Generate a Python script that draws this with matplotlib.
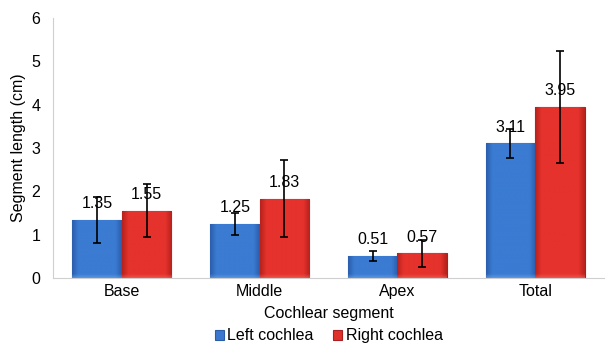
import matplotlib.pyplot as plt
import numpy as np
from matplotlib.colors import to_rgb

plt.rcParams['font.family'] = ['Liberation Sans', 'DejaVu Sans']

categories = ['Base', 'Middle', 'Apex', 'Total']
left_vals = [1.35, 1.25, 0.51, 3.11]
right_vals = [1.55, 1.83, 0.57, 3.95]
left_err = [0.53, 0.25, 0.12, 0.33]
right_err = [0.61, 0.89, 0.31, 1.29]

blue = '#3a78cf'
red = '#e0302b'
fs = 11.5


def shade(ax, bars, base, dark, light):
    # fake bevel: darker sides, lighter top strip
    base, dark, light = map(np.array, map(to_rgb, (base, dark, light)))
    for b in bars:
        x0, y0 = b.get_x(), b.get_y()
        bw, bh = b.get_width(), b.get_height()
        nx, ny = 40, 200
        u = np.linspace(0, 1, nx)
        side = np.clip(1 - np.minimum(u, 1 - u) / 0.12, 0, 1)[None, :, None]
        img = base[None, None, :] * (1 - side) + dark[None, None, :] * side
        img = np.repeat(img, ny, axis=0)
        top_px = 0.09 / bh * ny if bh > 0 else 0
        rows = np.arange(ny)[:, None, None]
        topmask = np.clip(1 - rows / max(top_px, 1), 0, 1) * 0.6
        img = img * (1 - topmask) + light[None, None, :] * topmask
        im = ax.imshow(img, extent=[x0, x0 + bw, y0 + bh, y0], origin='upper',
                       aspect='auto', zorder=2.1, interpolation='bilinear')
        im.set_clip_path(b)


fig = plt.figure(figsize=(6.09, 3.45), dpi=100)
ax = fig.add_axes([0.087, 0.194, 0.905, 0.754])

x = np.arange(len(categories))
w = 0.36
b1 = ax.bar(x - w/2, left_vals, w, color=blue, edgecolor='#2a5ca8', linewidth=0.8,
            label='Left cochlea', zorder=2)
b2 = ax.bar(x + w/2, right_vals, w, color=red, edgecolor='#a82020', linewidth=0.8,
            label='Right cochlea', zorder=2)
shade(ax, b1, '#3b7bd2', '#2c5fae', '#6aa6ea')
shade(ax, b2, '#e5322c', '#b9221d', '#f06a60')

ax.errorbar(x - w/2, left_vals, yerr=left_err, fmt='none', ecolor='black',
            elinewidth=1.2, capsize=3, capthick=1.2, zorder=3)
ax.errorbar(x + w/2, right_vals, yerr=right_err, fmt='none', ecolor='black',
            elinewidth=1.2, capsize=3, capthick=1.2, zorder=3)

for xi, v in zip(x - w/2, left_vals):
    ax.text(xi, v + 0.2, f'{v:.2f}', ha='center', va='bottom', fontsize=fs, zorder=4)
for xi, v in zip(x + w/2, right_vals):
    ax.text(xi, v + 0.2, f'{v:.2f}', ha='center', va='bottom', fontsize=fs, zorder=4)

ax.set_xlim(-0.5, 3.5)
ax.set_ylim(0, 6)
ax.set_xticks(x)
ax.set_xticklabels(categories, fontsize=fs)
ax.tick_params(axis='both', length=0, labelsize=fs)
ax.tick_params(axis='x', pad=4)
ax.tick_params(axis='y', pad=9)
ax.set_ylabel('Segment length (cm)', fontsize=11.5, labelpad=4)
ax.set_xlabel('Cochlear segment', fontsize=fs, labelpad=5)
for s in ['top', 'right']:
    ax.spines[s].set_visible(False)
for s in ['left', 'bottom']:
    ax.spines[s].set_color('#cfcfcf')

ax.legend(loc='upper center', bbox_to_anchor=(0.5, -0.15), ncol=2, frameon=False,
          fontsize=fs, handlelength=0.6, handleheight=0.6, handletextpad=0.2,
          columnspacing=1.2, borderpad=0.2)

plt.savefig('out.png', dpi=100)
